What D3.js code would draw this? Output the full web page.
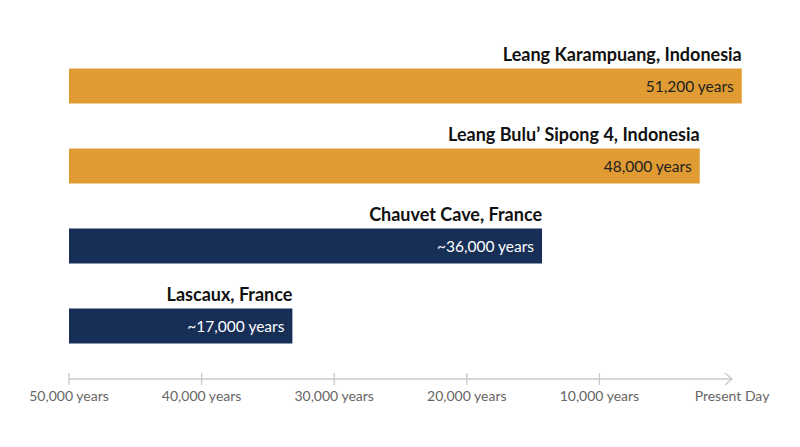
<!DOCTYPE html>
<html>
<head>
<meta charset="utf-8">
<script src="https://cdn.jsdelivr.net/npm/d3@7"></script>
<style>
  body { margin: 0; background: #fff; }
  text { font-family: "Source Sans Pro", Lato, "Noto Sans", sans-serif; }
</style>
</head>
<body>
<script>
// cave art sites and their ages
var sites = ["Leang Karampuang, Indonesia", "Leang Bulu\u2019 Sipong 4, Indonesia", "Chauvet Cave, France", "Lascaux, France"];
var ages = [51200, 48000, 36000, 17000];
var ageLabels = ["51,200 years", "48,000 years", "~36,000 years", "~17,000 years"];
var regions = ["Indonesia", "Indonesia", "France", "France"];

var tickValues = [50000, 40000, 30000, 20000, 10000, 0];
var tickLabels = ["50,000 years", "40,000 years", "30,000 years", "20,000 years", "10,000 years", "Present Day"];

var width = 800, height = 447;
var left = 69;

var svg = d3.select("body").append("svg")
    .attr("width", width)
    .attr("height", height);

// bar length grows with age, starting from the left edge
var lenScale = d3.scaleLinear()
    .domain([0, 50000])
    .range([0, 657]);

// axis: years ago, 50,000 on the left to present on the right
var xScale = d3.scaleLinear()
    .domain([50000, 0])
    .range([left, 732]);

var yScale = d3.scaleBand()
    .domain(sites)
    .range([46, 366])
    .paddingInner(0.5625)
    .paddingOuter(0.5625 * 0.5);

var color = d3.scaleOrdinal()
    .domain(["Indonesia", "France"])
    .range(["#E09B32", "#172F57"]);

var data = sites.map(function (s, i) {
    return { site: s, age: ages[i], label: ageLabels[i], region: regions[i] };
});

var rows = svg.selectAll("g.row")
    .data(data)
    .enter()
    .append("g")
    .attr("class", "row")
    .attr("transform", function (d) { return "translate(0," + yScale(d.site) + ")"; });

rows.append("rect")
    .attr("x", left)
    .attr("y", 0)
    .attr("width", function (d) { return lenScale(d.age); })
    .attr("height", yScale.bandwidth())
    .attr("fill", function (d) { return color(d.region); });

//site name above the end of the bar
rows.append("text")
    .attr("x", function (d) { return left + lenScale(d.age); })
    .attr("y", -8)
    .attr("text-anchor", "end")
    .attr("font-size", "18px")
    .attr("font-weight", "bold")
    .attr("fill", "#111")
    .text(function (d) { return d.site; });

//age inside the bar
rows.append("text")
    .attr("x", function (d) { return left + lenScale(d.age) - 8; })
    .attr("y", yScale.bandwidth() / 2 + 6)
    .attr("text-anchor", "end")
    .attr("font-size", "15.5px")
    .attr("fill", function (d) { return d.region === "France" ? "#fff" : "#222"; })
    .text(function (d) { return d.label; });

// axis
var axisY = 379;
var axis = svg.append("g")
    .attr("transform", "translate(0," + axisY + ")");

axis.append("line")
    .attr("x1", xScale(50000))
    .attr("x2", xScale(0))
    .attr("stroke", "#c8c8c8")
    .attr("stroke-width", 1.3);

axis.append("path")
    .attr("d", "M" + (xScale(0) - 7) + ",-6L" + xScale(0) + ",0L" + (xScale(0) - 7) + ",6")
    .attr("fill", "none")
    .attr("stroke", "#c8c8c8")
    .attr("stroke-width", 1.3);

axis.selectAll("line.tick")
    .data(tickValues.slice(0, 5))
    .enter()
    .append("line")
    .attr("class", "tick")
    .attr("x1", function (d) { return xScale(d); })
    .attr("x2", function (d) { return xScale(d); })
    .attr("y1", -6)
    .attr("y2", 6)
    .attr("stroke", "#c8c8c8")
    .attr("stroke-width", 1.3);

axis.selectAll("text")
    .data(tickValues)
    .enter()
    .append("text")
    .attr("x", function (d) { return xScale(d); })
    .attr("y", 22)
    .attr("text-anchor", "middle")
    .attr("font-size", "14px")
    .attr("fill", "#666")
    .text(function (d, i) { return tickLabels[i]; });
</script>
</body>
</html>
